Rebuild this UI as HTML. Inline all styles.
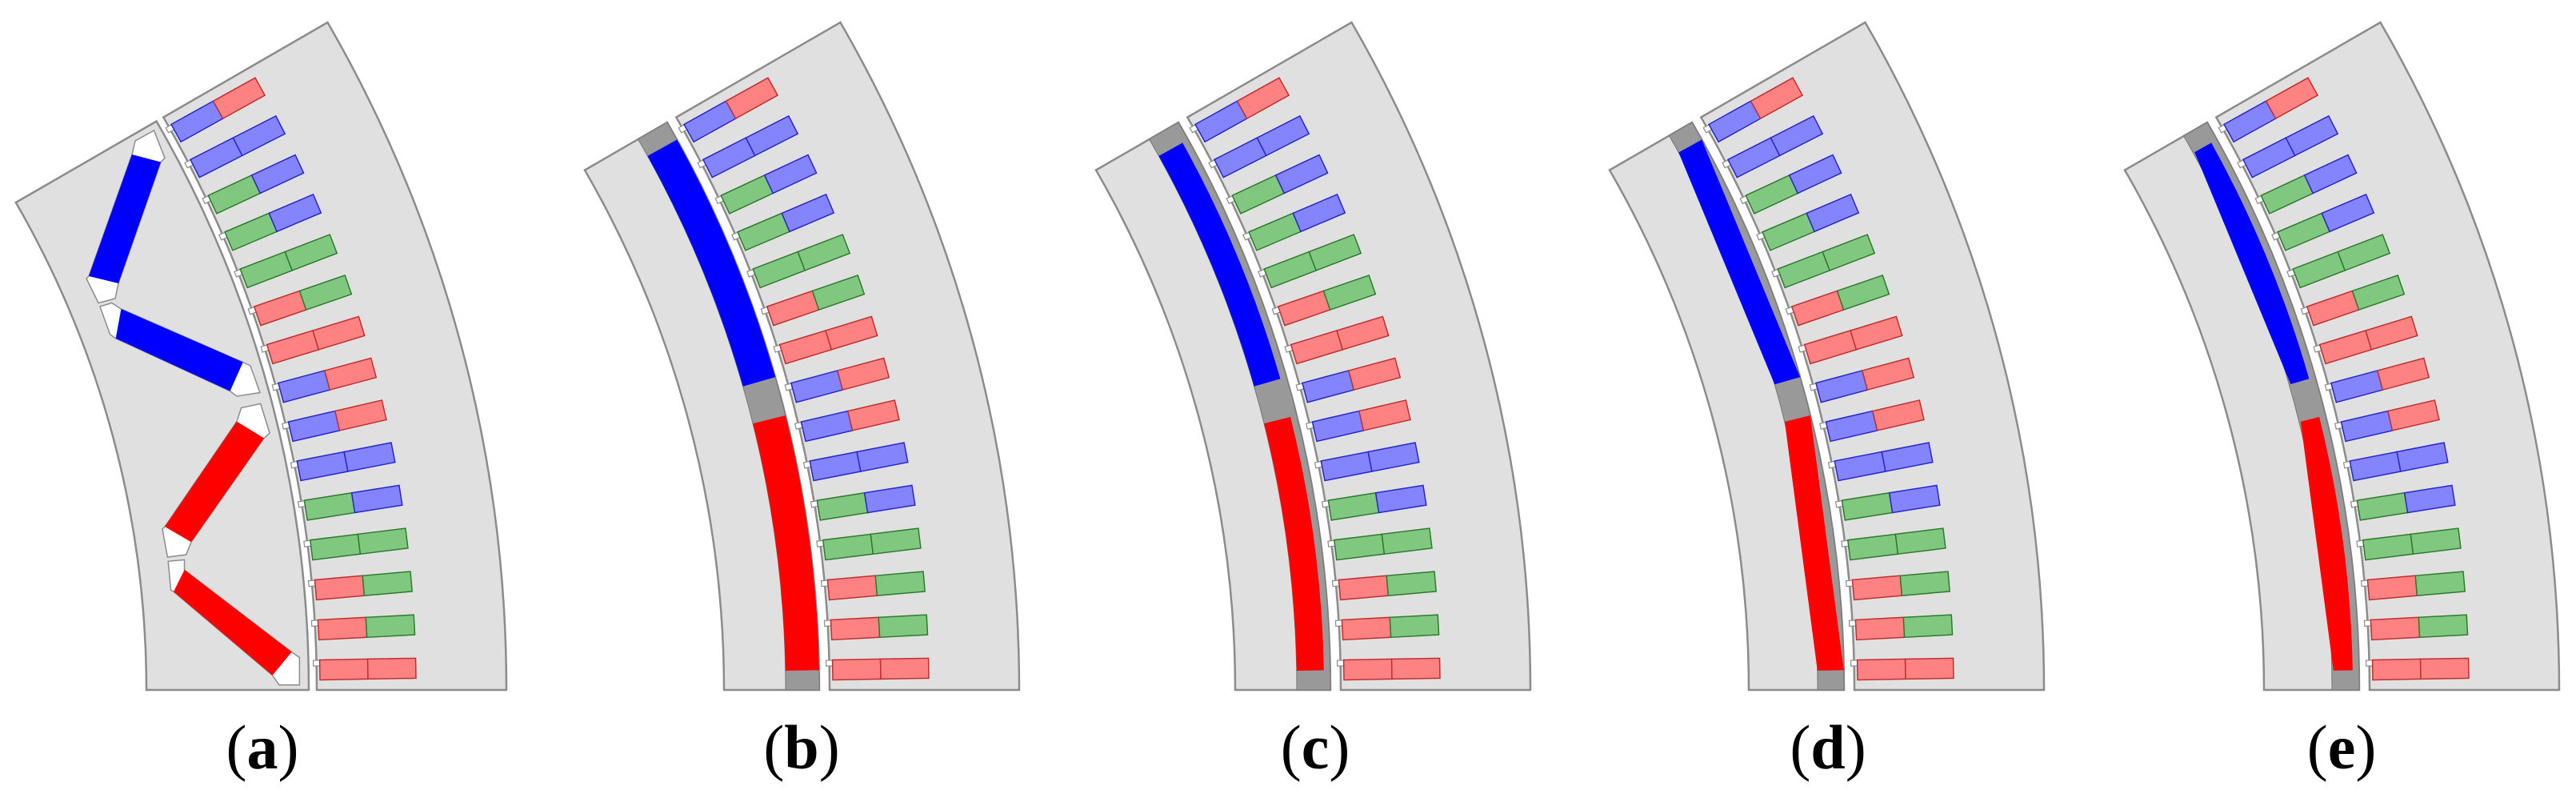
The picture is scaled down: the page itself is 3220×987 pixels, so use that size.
<!DOCTYPE html>
<html><head><meta charset="utf-8"><style>
html,body{margin:0;padding:0;background:#fff;}
svg{display:block;}
.lam{fill:#e0e0e0;stroke:#8c8c8c;stroke-width:2.5;}
.r{fill:#ff8282;stroke:#c03030;stroke-width:1.5;}
.g{fill:#80c880;stroke:#2f7a2f;stroke-width:1.5;}
.b{fill:#8484ff;stroke:#2828c8;stroke-width:1.5;}
.n{fill:#fff;stroke:#8c8c8c;stroke-width:1.2;}
.gy{fill:#999;stroke:#777;stroke-width:1;}
.mb{fill:#0000ff;}
.mr{fill:#ff0000;}
.bar{fill:#fff;stroke:#8c8c8c;stroke-width:1.5;}
text{font-family:"Liberation Serif",serif;font-weight:bold;font-size:78px;fill:#000;}
.p{font-weight:normal;}
</style></head><body>
<svg width="3220" height="987" viewBox="0 0 3220 987" xmlns="http://www.w3.org/2000/svg">
<defs>
<g id="stator">
<path class="lam" d="M1431,0 L1668,0 A1668,1668 0 0 0 1444.5,-834 L1239.3,-715.5 A1431,1431 0 0 1 1431,0 Z"/>
<g transform="rotate(-1)"><rect class="n" x="1427" y="-12" width="9" height="7"/><rect class="r" x="1435" y="-12.5" width="60" height="25"/><rect class="r" x="1495" y="-12.5" width="60" height="25"/></g>
<g transform="rotate(-3)"><rect class="n" x="1427" y="-12" width="9" height="7"/><rect class="r" x="1435" y="-12.5" width="60" height="25"/><rect class="g" x="1495" y="-12.5" width="60" height="25"/></g>
<g transform="rotate(-5)"><rect class="n" x="1427" y="-12" width="9" height="7"/><rect class="r" x="1435" y="-12.5" width="60" height="25"/><rect class="g" x="1495" y="-12.5" width="60" height="25"/></g>
<g transform="rotate(-7)"><rect class="n" x="1427" y="-12" width="9" height="7"/><rect class="g" x="1435" y="-12.5" width="60" height="25"/><rect class="g" x="1495" y="-12.5" width="60" height="25"/></g>
<g transform="rotate(-9)"><rect class="n" x="1427" y="-12" width="9" height="7"/><rect class="g" x="1435" y="-12.5" width="60" height="25"/><rect class="b" x="1495" y="-12.5" width="60" height="25"/></g>
<g transform="rotate(-11)"><rect class="n" x="1427" y="-12" width="9" height="7"/><rect class="b" x="1435" y="-12.5" width="60" height="25"/><rect class="b" x="1495" y="-12.5" width="60" height="25"/></g>
<g transform="rotate(-13)"><rect class="n" x="1427" y="-12" width="9" height="7"/><rect class="b" x="1435" y="-12.5" width="60" height="25"/><rect class="r" x="1495" y="-12.5" width="60" height="25"/></g>
<g transform="rotate(-15)"><rect class="n" x="1427" y="-12" width="9" height="7"/><rect class="b" x="1435" y="-12.5" width="60" height="25"/><rect class="r" x="1495" y="-12.5" width="60" height="25"/></g>
<g transform="rotate(-17)"><rect class="n" x="1427" y="-12" width="9" height="7"/><rect class="r" x="1435" y="-12.5" width="60" height="25"/><rect class="r" x="1495" y="-12.5" width="60" height="25"/></g>
<g transform="rotate(-19)"><rect class="n" x="1427" y="-12" width="9" height="7"/><rect class="r" x="1435" y="-12.5" width="60" height="25"/><rect class="g" x="1495" y="-12.5" width="60" height="25"/></g>
<g transform="rotate(-21)"><rect class="n" x="1427" y="-12" width="9" height="7"/><rect class="g" x="1435" y="-12.5" width="60" height="25"/><rect class="g" x="1495" y="-12.5" width="60" height="25"/></g>
<g transform="rotate(-23)"><rect class="n" x="1427" y="-12" width="9" height="7"/><rect class="g" x="1435" y="-12.5" width="60" height="25"/><rect class="b" x="1495" y="-12.5" width="60" height="25"/></g>
<g transform="rotate(-25)"><rect class="n" x="1427" y="-12" width="9" height="7"/><rect class="g" x="1435" y="-12.5" width="60" height="25"/><rect class="b" x="1495" y="-12.5" width="60" height="25"/></g>
<g transform="rotate(-27)"><rect class="n" x="1427" y="-12" width="9" height="7"/><rect class="b" x="1435" y="-12.5" width="60" height="25"/><rect class="b" x="1495" y="-12.5" width="60" height="25"/></g>
<g transform="rotate(-29)"><rect class="n" x="1427" y="-12" width="9" height="7"/><rect class="b" x="1435" y="-12.5" width="60" height="25"/><rect class="r" x="1495" y="-12.5" width="60" height="25"/></g>
</g>
<path id="rotor" class="lam" d="M1299,0 L1418,0 A1418,1418 0 0 0 1228,-709 L1125,-649.5 A1299,1299 0 0 1 1299,0 Z"/>
</defs>

<!-- (a) -->
<g transform="translate(-1035,862)">
<use href="#stator"/>
<path class="lam" d="M1218,0 L1421,0 A1421,1421 0 0 0 1230.6,-710.5 L1054.8,-609 A1218,1218 0 0 1 1218,0 Z"/>
</g>
<polygon class="bar" points="165,193 169,176 192.5,163 206,197.5 201,202.5 148,354 144,373 123,378.5 108,348 111,345"/>
<polygon class="mb" points="111,345 165,193 201,202.5 148,354"/>
<polygon class="bar" points="125,383 139.6,378.5 151.4,386 303.7,452.5 313,457 325,490.5 296,495 287.6,488.6 144.7,422.8 137.5,417.7"/>
<polygon class="mb" points="151.4,386 303.7,452.5 287.6,488.6 144.7,422.8"/>
<polygon class="bar" points="206,658 296,526.6 301.6,509.5 325.7,504.4 337.1,541 330,547.5 239,677.2 232.7,693 209.4,696 203,661"/>
<polygon class="mr" points="206,658 296,526.6 330,547.5 239,677.2"/>
<polygon class="bar" points="210.2,701.3 230.5,699.4 230.5,712 364.6,814.6 374.4,821.5 374.4,855.7 349,855.7 340.5,843.7 217,739.2 213.6,737.3"/>
<polygon class="mr" points="230.5,712 364.6,814.6 340.5,843.7 217,739.2"/>
<text x="328" y="960" text-anchor="middle"><tspan class="p">(</tspan>a<tspan class="p">)</tspan></text>

<!-- (b) -->
<g transform="translate(-394,862)">
<use href="#stator"/>
<use href="#rotor"/>
<path class="gy" d="M1376,0 L1418,0 A1418,1418 0 0 0 1228,-709 L1191.6,-688 A1376,1376 0 0 1 1376,0 Z"/>
<path class="mr" d="M1375.8,-24 L1417.8,-24.7 A1418,1418 0 0 0 1375.9,-343 L1335.1,-332.9 A1376,1376 0 0 1 1375.8,-24 Z"/>
<path class="mb" d="M1322.7,-379.3 L1363.1,-390.9 A1418,1418 0 0 0 1240.2,-687.5 L1203.5,-667.1 A1376,1376 0 0 1 1322.7,-379.3 Z"/>
</g>
<text x="1002" y="960" text-anchor="middle"><tspan class="p">(</tspan>b<tspan class="p">)</tspan></text>

<!-- (c) -->
<g transform="translate(245,862)">
<use href="#stator"/>
<use href="#rotor"/>
<path class="gy" d="M1376,0 L1418,0 A1418,1418 0 0 0 1228,-709 L1191.6,-688 A1376,1376 0 0 1 1376,0 Z"/>
<path class="mr" d="M1375.8,-24 L1409.8,-24.6 A1410,1410 0 0 0 1368.1,-341.1 L1335.1,-332.9 A1376,1376 0 0 1 1375.8,-24 Z"/>
<path class="mb" d="M1322.7,-379.3 L1355.4,-388.7 A1410,1410 0 0 0 1233.2,-683.6 L1203.5,-667.1 A1376,1376 0 0 1 1322.7,-379.3 Z"/>
</g>
<text x="1644" y="960" text-anchor="middle"><tspan class="p">(</tspan>c<tspan class="p">)</tspan></text>

<!-- (d) -->
<g transform="translate(887,862)">
<use href="#stator"/>
<use href="#rotor"/>
<path class="gy" d="M1385,0 L1418,0 A1418,1418 0 0 0 1228,-709 L1199.4,-692.5 A1385,1385 0 0 1 1385,0 Z"/>
<polygon class="mr" points="1384.8,-24.2 1417.8,-24.7 1375.9,-343 1343.9,-335.1"/>
<polygon class="mb" points="1331.3,-381.8 1363.1,-390.9 1240.2,-687.5 1211.3,-671.5"/>
</g>
<text x="2285" y="960" text-anchor="middle"><tspan class="p">(</tspan>d<tspan class="p">)</tspan></text>

<!-- (e) -->
<g transform="translate(1531,862)">
<use href="#stator"/>
<use href="#rotor"/>
<path class="gy" d="M1384,0 L1418,0 A1418,1418 0 0 0 1228,-709 L1198.6,-692 A1384,1384 0 0 1 1384,0 Z"/>
<path class="mr" d="M1385.8,-24.2 L1409.8,-24.6 A1410,1410 0 0 0 1368.1,-341.1 L1344.8,-335.3 Z"/>
<path class="mb" d="M1332.3,-382 L1355.4,-388.7 A1410,1410 0 0 0 1233.2,-683.6 L1212.2,-671.9 Z"/>
</g>
<text x="2927" y="960" text-anchor="middle"><tspan class="p">(</tspan>e<tspan class="p">)</tspan></text>
</svg>
</body></html>
